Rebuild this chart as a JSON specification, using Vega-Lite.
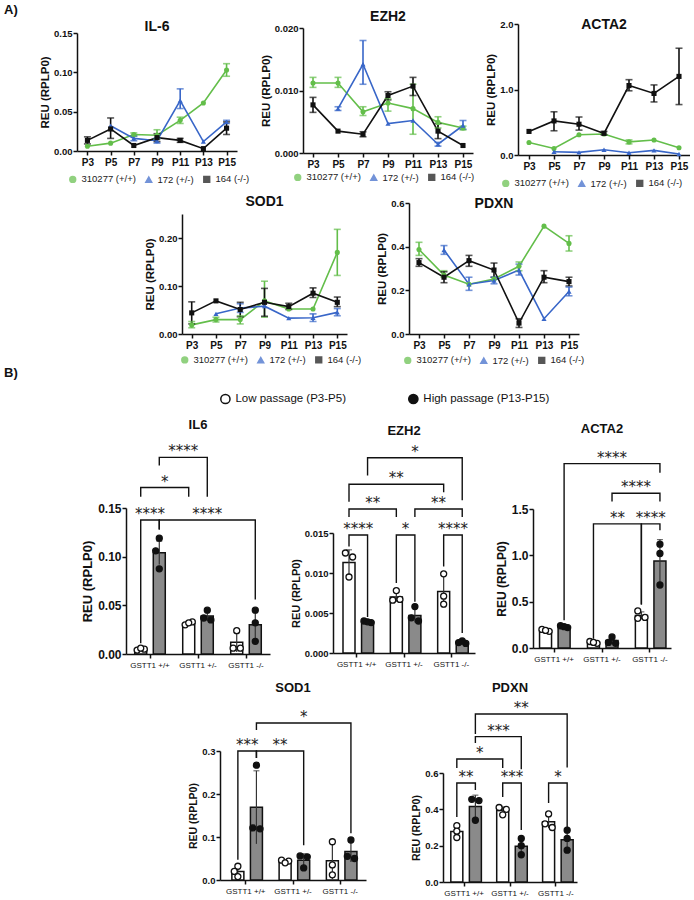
{
  "$schema": "https://vega.github.io/schema/vega-lite/v6.json",
  "padding": {"left": 3, "top": 4, "right": 0, "bottom": 0},
  "spacing": 0,
  "config": {
    "view": {"stroke": null},
    "font": "Liberation Sans",
    "axis": {"grid": false, "domainColor": "#111", "domainWidth": 1.5, "tickColor": "#111", "tickWidth": 1.5, "tickSize": 4, "labelColor": "#111", "titleColor": "#111", "labelFontWeight": "bold", "titleFontWeight": "bold", "labelPadding": 1, "titlePadding": 3, "labelFont": "Liberation Sans", "titleFont": "Liberation Sans", "labelOverlap": false},
    "legend": {"orient": "none", "direction": "horizontal", "title": null, "labelFontSize": 9.5, "labelColor": "#222", "labelFontWeight": "normal", "labelFont": "Liberation Sans", "symbolSize": 34, "symbolStrokeWidth": 1.5, "labelOffset": 4, "columnPadding": 6},
    "title": {"color": "#111", "fontWeight": "bold", "frame": "group", "font": "Liberation Sans"}
  },
  "datasets": {
    "trend": [
      {"gene": "IL-6", "series": "310277 (+/+)", "passage": "P3", "mean": 0.006},
      {"gene": "IL-6", "series": "310277 (+/+)", "passage": "P5", "mean": 0.010},
      {"gene": "IL-6", "series": "310277 (+/+)", "passage": "P7", "mean": 0.021, "lo": 0.019, "hi": 0.023},
      {"gene": "IL-6", "series": "310277 (+/+)", "passage": "P9", "mean": 0.020, "lo": 0.015, "hi": 0.027},
      {"gene": "IL-6", "series": "310277 (+/+)", "passage": "P11", "mean": 0.039, "lo": 0.035, "hi": 0.043},
      {"gene": "IL-6", "series": "310277 (+/+)", "passage": "P13", "mean": 0.061},
      {"gene": "IL-6", "series": "310277 (+/+)", "passage": "P15", "mean": 0.103, "lo": 0.095, "hi": 0.111},
      {"gene": "IL-6", "series": "172 (+/-)", "passage": "P5", "mean": 0.032},
      {"gene": "IL-6", "series": "172 (+/-)", "passage": "P7", "mean": 0.016, "lo": 0.013, "hi": 0.019},
      {"gene": "IL-6", "series": "172 (+/-)", "passage": "P9", "mean": 0.013, "lo": 0.010, "hi": 0.016},
      {"gene": "IL-6", "series": "172 (+/-)", "passage": "P11", "mean": 0.064, "lo": 0.054, "hi": 0.079},
      {"gene": "IL-6", "series": "172 (+/-)", "passage": "P13", "mean": 0.012},
      {"gene": "IL-6", "series": "172 (+/-)", "passage": "P15", "mean": 0.037, "lo": 0.035, "hi": 0.039},
      {"gene": "IL-6", "series": "164 (-/-)", "passage": "P3", "mean": 0.0135, "lo": 0.009, "hi": 0.018},
      {"gene": "IL-6", "series": "164 (-/-)", "passage": "P5", "mean": 0.028, "lo": 0.016, "hi": 0.042},
      {"gene": "IL-6", "series": "164 (-/-)", "passage": "P7", "mean": 0.007},
      {"gene": "IL-6", "series": "164 (-/-)", "passage": "P9", "mean": 0.017, "lo": 0.012, "hi": 0.022},
      {"gene": "IL-6", "series": "164 (-/-)", "passage": "P11", "mean": 0.0135, "lo": 0.011, "hi": 0.016},
      {"gene": "IL-6", "series": "164 (-/-)", "passage": "P13", "mean": 0.003},
      {"gene": "IL-6", "series": "164 (-/-)", "passage": "P15", "mean": 0.029, "lo": 0.021, "hi": 0.037},

      {"gene": "EZH2", "series": "310277 (+/+)", "passage": "P3", "mean": 0.0112, "lo": 0.0105, "hi": 0.0121},
      {"gene": "EZH2", "series": "310277 (+/+)", "passage": "P5", "mean": 0.0112, "lo": 0.0105, "hi": 0.0121},
      {"gene": "EZH2", "series": "310277 (+/+)", "passage": "P7", "mean": 0.0066, "lo": 0.006, "hi": 0.0074},
      {"gene": "EZH2", "series": "310277 (+/+)", "passage": "P9", "mean": 0.008, "lo": 0.0067, "hi": 0.0087},
      {"gene": "EZH2", "series": "310277 (+/+)", "passage": "P11", "mean": 0.0071, "lo": 0.003, "hi": 0.011},
      {"gene": "EZH2", "series": "310277 (+/+)", "passage": "P13", "mean": 0.0049, "lo": 0.004, "hi": 0.0058},
      {"gene": "EZH2", "series": "310277 (+/+)", "passage": "P15", "mean": 0.004, "lo": 0.0037, "hi": 0.0043},
      {"gene": "EZH2", "series": "172 (+/-)", "passage": "P5", "mean": 0.0071, "lo": 0.0068, "hi": 0.0074},
      {"gene": "EZH2", "series": "172 (+/-)", "passage": "P7", "mean": 0.0142, "lo": 0.011, "hi": 0.018},
      {"gene": "EZH2", "series": "172 (+/-)", "passage": "P9", "mean": 0.0047},
      {"gene": "EZH2", "series": "172 (+/-)", "passage": "P11", "mean": 0.0052},
      {"gene": "EZH2", "series": "172 (+/-)", "passage": "P13", "mean": 0.0014, "lo": 0.0011, "hi": 0.0017},
      {"gene": "EZH2", "series": "172 (+/-)", "passage": "P15", "mean": 0.0044, "lo": 0.0038, "hi": 0.0052},
      {"gene": "EZH2", "series": "164 (-/-)", "passage": "P3", "mean": 0.0077, "lo": 0.0065, "hi": 0.0089},
      {"gene": "EZH2", "series": "164 (-/-)", "passage": "P5", "mean": 0.0035},
      {"gene": "EZH2", "series": "164 (-/-)", "passage": "P7", "mean": 0.003, "lo": 0.0026, "hi": 0.0034},
      {"gene": "EZH2", "series": "164 (-/-)", "passage": "P9", "mean": 0.0092, "lo": 0.0085, "hi": 0.0098},
      {"gene": "EZH2", "series": "164 (-/-)", "passage": "P11", "mean": 0.0107, "lo": 0.0092, "hi": 0.0121},
      {"gene": "EZH2", "series": "164 (-/-)", "passage": "P13", "mean": 0.0035, "lo": 0.0023, "hi": 0.0047},
      {"gene": "EZH2", "series": "164 (-/-)", "passage": "P15", "mean": 0.0012},

      {"gene": "ACTA2", "series": "310277 (+/+)", "passage": "P3", "mean": 0.19},
      {"gene": "ACTA2", "series": "310277 (+/+)", "passage": "P5", "mean": 0.10},
      {"gene": "ACTA2", "series": "310277 (+/+)", "passage": "P7", "mean": 0.31},
      {"gene": "ACTA2", "series": "310277 (+/+)", "passage": "P9", "mean": 0.32},
      {"gene": "ACTA2", "series": "310277 (+/+)", "passage": "P11", "mean": 0.20, "lo": 0.17, "hi": 0.23},
      {"gene": "ACTA2", "series": "310277 (+/+)", "passage": "P13", "mean": 0.23},
      {"gene": "ACTA2", "series": "310277 (+/+)", "passage": "P15", "mean": 0.11},
      {"gene": "ACTA2", "series": "172 (+/-)", "passage": "P5", "mean": 0.05},
      {"gene": "ACTA2", "series": "172 (+/-)", "passage": "P7", "mean": 0.04},
      {"gene": "ACTA2", "series": "172 (+/-)", "passage": "P9", "mean": 0.08},
      {"gene": "ACTA2", "series": "172 (+/-)", "passage": "P11", "mean": 0.035},
      {"gene": "ACTA2", "series": "172 (+/-)", "passage": "P13", "mean": 0.07},
      {"gene": "ACTA2", "series": "172 (+/-)", "passage": "P15", "mean": 0.015},
      {"gene": "ACTA2", "series": "164 (-/-)", "passage": "P3", "mean": 0.36},
      {"gene": "ACTA2", "series": "164 (-/-)", "passage": "P5", "mean": 0.52, "lo": 0.37, "hi": 0.66},
      {"gene": "ACTA2", "series": "164 (-/-)", "passage": "P7", "mean": 0.47, "lo": 0.38, "hi": 0.58},
      {"gene": "ACTA2", "series": "164 (-/-)", "passage": "P9", "mean": 0.33, "lo": 0.31, "hi": 0.36},
      {"gene": "ACTA2", "series": "164 (-/-)", "passage": "P11", "mean": 1.06, "lo": 0.98, "hi": 1.15},
      {"gene": "ACTA2", "series": "164 (-/-)", "passage": "P13", "mean": 0.94, "lo": 0.81, "hi": 1.07},
      {"gene": "ACTA2", "series": "164 (-/-)", "passage": "P15", "mean": 1.20, "lo": 0.77, "hi": 1.63},

      {"gene": "SOD1", "series": "310277 (+/+)", "passage": "P3", "mean": 0.019, "lo": 0.013, "hi": 0.026},
      {"gene": "SOD1", "series": "310277 (+/+)", "passage": "P5", "mean": 0.030, "lo": 0.025, "hi": 0.035},
      {"gene": "SOD1", "series": "310277 (+/+)", "passage": "P7", "mean": 0.030, "lo": 0.021, "hi": 0.038},
      {"gene": "SOD1", "series": "310277 (+/+)", "passage": "P9", "mean": 0.069, "lo": 0.035, "hi": 0.110},
      {"gene": "SOD1", "series": "310277 (+/+)", "passage": "P11", "mean": 0.052},
      {"gene": "SOD1", "series": "310277 (+/+)", "passage": "P13", "mean": 0.052},
      {"gene": "SOD1", "series": "310277 (+/+)", "passage": "P15", "mean": 0.170, "lo": 0.122, "hi": 0.218},
      {"gene": "SOD1", "series": "172 (+/-)", "passage": "P5", "mean": 0.042},
      {"gene": "SOD1", "series": "172 (+/-)", "passage": "P7", "mean": 0.054, "lo": 0.045, "hi": 0.063},
      {"gene": "SOD1", "series": "172 (+/-)", "passage": "P9", "mean": 0.058},
      {"gene": "SOD1", "series": "172 (+/-)", "passage": "P11", "mean": 0.033},
      {"gene": "SOD1", "series": "172 (+/-)", "passage": "P13", "mean": 0.034, "lo": 0.026, "hi": 0.042},
      {"gene": "SOD1", "series": "172 (+/-)", "passage": "P15", "mean": 0.045, "lo": 0.038, "hi": 0.053},
      {"gene": "SOD1", "series": "164 (-/-)", "passage": "P3", "mean": 0.044, "lo": 0.021, "hi": 0.067},
      {"gene": "SOD1", "series": "164 (-/-)", "passage": "P5", "mean": 0.069},
      {"gene": "SOD1", "series": "164 (-/-)", "passage": "P7", "mean": 0.051, "lo": 0.036, "hi": 0.066},
      {"gene": "SOD1", "series": "164 (-/-)", "passage": "P9", "mean": 0.066, "lo": 0.037, "hi": 0.095},
      {"gene": "SOD1", "series": "164 (-/-)", "passage": "P11", "mean": 0.057, "lo": 0.051, "hi": 0.064},
      {"gene": "SOD1", "series": "164 (-/-)", "passage": "P13", "mean": 0.085, "lo": 0.076, "hi": 0.096},
      {"gene": "SOD1", "series": "164 (-/-)", "passage": "P15", "mean": 0.066, "lo": 0.057, "hi": 0.077},

      {"gene": "PDXN", "series": "310277 (+/+)", "passage": "P3", "mean": 0.387, "lo": 0.36, "hi": 0.42},
      {"gene": "PDXN", "series": "310277 (+/+)", "passage": "P5", "mean": 0.27, "lo": 0.26, "hi": 0.29},
      {"gene": "PDXN", "series": "310277 (+/+)", "passage": "P7", "mean": 0.228},
      {"gene": "PDXN", "series": "310277 (+/+)", "passage": "P9", "mean": 0.252},
      {"gene": "PDXN", "series": "310277 (+/+)", "passage": "P11", "mean": 0.31, "lo": 0.29, "hi": 0.33},
      {"gene": "PDXN", "series": "310277 (+/+)", "passage": "P13", "mean": 0.494},
      {"gene": "PDXN", "series": "310277 (+/+)", "passage": "P15", "mean": 0.415, "lo": 0.38, "hi": 0.45},
      {"gene": "PDXN", "series": "172 (+/-)", "passage": "P5", "mean": 0.385, "lo": 0.365, "hi": 0.405},
      {"gene": "PDXN", "series": "172 (+/-)", "passage": "P7", "mean": 0.228, "lo": 0.20, "hi": 0.26},
      {"gene": "PDXN", "series": "172 (+/-)", "passage": "P9", "mean": 0.245, "lo": 0.23, "hi": 0.26},
      {"gene": "PDXN", "series": "172 (+/-)", "passage": "P11", "mean": 0.293, "lo": 0.27, "hi": 0.32},
      {"gene": "PDXN", "series": "172 (+/-)", "passage": "P13", "mean": 0.07},
      {"gene": "PDXN", "series": "172 (+/-)", "passage": "P15", "mean": 0.195, "lo": 0.175, "hi": 0.215},
      {"gene": "PDXN", "series": "164 (-/-)", "passage": "P3", "mean": 0.327, "lo": 0.31, "hi": 0.345},
      {"gene": "PDXN", "series": "164 (-/-)", "passage": "P5", "mean": 0.26, "lo": 0.235, "hi": 0.285},
      {"gene": "PDXN", "series": "164 (-/-)", "passage": "P7", "mean": 0.336, "lo": 0.31, "hi": 0.36},
      {"gene": "PDXN", "series": "164 (-/-)", "passage": "P9", "mean": 0.293, "lo": 0.26, "hi": 0.325},
      {"gene": "PDXN", "series": "164 (-/-)", "passage": "P11", "mean": 0.05, "lo": 0.03, "hi": 0.07},
      {"gene": "PDXN", "series": "164 (-/-)", "passage": "P13", "mean": 0.26, "lo": 0.235, "hi": 0.29},
      {"gene": "PDXN", "series": "164 (-/-)", "passage": "P15", "mean": 0.24, "lo": 0.22, "hi": 0.26}
    ],
    "bars": [
      {"gene": "IL6", "genotype": "GSTT1 +/+", "passage": "Low", "mean": 0.005, "lo": 0.004, "hi": 0.006},
      {"gene": "IL6", "genotype": "GSTT1 +/+", "passage": "High", "mean": 0.104, "lo": 0.092, "hi": 0.116},
      {"gene": "IL6", "genotype": "GSTT1 +/-", "passage": "Low", "mean": 0.031, "lo": 0.030, "hi": 0.033},
      {"gene": "IL6", "genotype": "GSTT1 +/-", "passage": "High", "mean": 0.039, "lo": 0.034, "hi": 0.044},
      {"gene": "IL6", "genotype": "GSTT1 -/-", "passage": "Low", "mean": 0.012, "lo": 0.002, "hi": 0.022},
      {"gene": "IL6", "genotype": "GSTT1 -/-", "passage": "High", "mean": 0.030, "lo": 0.014, "hi": 0.046},
      {"gene": "EZH2", "genotype": "GSTT1 +/+", "passage": "Low", "mean": 0.0113, "lo": 0.0097, "hi": 0.0129},
      {"gene": "EZH2", "genotype": "GSTT1 +/+", "passage": "High", "mean": 0.0039, "lo": 0.0037, "hi": 0.0041},
      {"gene": "EZH2", "genotype": "GSTT1 +/-", "passage": "Low", "mean": 0.0070, "lo": 0.0064, "hi": 0.0076},
      {"gene": "EZH2", "genotype": "GSTT1 +/-", "passage": "High", "mean": 0.0047, "lo": 0.0038, "hi": 0.0057},
      {"gene": "EZH2", "genotype": "GSTT1 -/-", "passage": "Low", "mean": 0.0077, "lo": 0.0057, "hi": 0.0097},
      {"gene": "EZH2", "genotype": "GSTT1 -/-", "passage": "High", "mean": 0.0013, "lo": 0.0011, "hi": 0.0015},
      {"gene": "ACTA2", "genotype": "GSTT1 +/+", "passage": "Low", "mean": 0.19, "lo": 0.175, "hi": 0.205},
      {"gene": "ACTA2", "genotype": "GSTT1 +/+", "passage": "High", "mean": 0.23, "lo": 0.22, "hi": 0.24},
      {"gene": "ACTA2", "genotype": "GSTT1 +/-", "passage": "Low", "mean": 0.06, "lo": 0.05, "hi": 0.07},
      {"gene": "ACTA2", "genotype": "GSTT1 +/-", "passage": "High", "mean": 0.08, "lo": 0.04, "hi": 0.12},
      {"gene": "ACTA2", "genotype": "GSTT1 -/-", "passage": "Low", "mean": 0.35, "lo": 0.31, "hi": 0.39},
      {"gene": "ACTA2", "genotype": "GSTT1 -/-", "passage": "High", "mean": 0.94, "lo": 0.71, "hi": 1.17},
      {"gene": "SOD1", "genotype": "GSTT1 +/+", "passage": "Low", "mean": 0.020, "lo": 0.008, "hi": 0.032},
      {"gene": "SOD1", "genotype": "GSTT1 +/+", "passage": "High", "mean": 0.169, "lo": 0.084, "hi": 0.254},
      {"gene": "SOD1", "genotype": "GSTT1 +/-", "passage": "Low", "mean": 0.043, "lo": 0.040, "hi": 0.046},
      {"gene": "SOD1", "genotype": "GSTT1 +/-", "passage": "High", "mean": 0.046, "lo": 0.031, "hi": 0.061},
      {"gene": "SOD1", "genotype": "GSTT1 -/-", "passage": "Low", "mean": 0.045, "lo": 0.002, "hi": 0.088},
      {"gene": "SOD1", "genotype": "GSTT1 -/-", "passage": "High", "mean": 0.066, "lo": 0.042, "hi": 0.090},
      {"gene": "PDXN", "genotype": "GSTT1 +/+", "passage": "Low", "mean": 0.278, "lo": 0.246, "hi": 0.310},
      {"gene": "PDXN", "genotype": "GSTT1 +/+", "passage": "High", "mean": 0.415, "lo": 0.351, "hi": 0.478},
      {"gene": "PDXN", "genotype": "GSTT1 +/-", "passage": "Low", "mean": 0.393, "lo": 0.373, "hi": 0.413},
      {"gene": "PDXN", "genotype": "GSTT1 +/-", "passage": "High", "mean": 0.197, "lo": 0.152, "hi": 0.242},
      {"gene": "PDXN", "genotype": "GSTT1 -/-", "passage": "Low", "mean": 0.332, "lo": 0.297, "hi": 0.367},
      {"gene": "PDXN", "genotype": "GSTT1 -/-", "passage": "High", "mean": 0.233, "lo": 0.178, "hi": 0.288}
    ],
    "dots": [
      {"gene": "IL6", "genotype": "GSTT1 +/+", "passage": "Low", "rep": "a", "value": 0.004},
      {"gene": "IL6", "genotype": "GSTT1 +/+", "passage": "Low", "rep": "b", "value": 0.005},
      {"gene": "IL6", "genotype": "GSTT1 +/+", "passage": "Low", "rep": "c", "value": 0.006},
      {"gene": "IL6", "genotype": "GSTT1 +/+", "passage": "High", "rep": "a", "value": 0.106},
      {"gene": "IL6", "genotype": "GSTT1 +/+", "passage": "High", "rep": "c", "value": 0.119},
      {"gene": "IL6", "genotype": "GSTT1 +/+", "passage": "High", "rep": "c", "value": 0.0875},
      {"gene": "IL6", "genotype": "GSTT1 +/-", "passage": "Low", "rep": "a", "value": 0.030},
      {"gene": "IL6", "genotype": "GSTT1 +/-", "passage": "Low", "rep": "b", "value": 0.033},
      {"gene": "IL6", "genotype": "GSTT1 +/-", "passage": "Low", "rep": "c", "value": 0.032},
      {"gene": "IL6", "genotype": "GSTT1 +/-", "passage": "High", "rep": "c", "value": 0.045},
      {"gene": "IL6", "genotype": "GSTT1 +/-", "passage": "High", "rep": "a", "value": 0.037},
      {"gene": "IL6", "genotype": "GSTT1 +/-", "passage": "High", "rep": "b", "value": 0.035},
      {"gene": "IL6", "genotype": "GSTT1 -/-", "passage": "Low", "rep": "c", "value": 0.024},
      {"gene": "IL6", "genotype": "GSTT1 -/-", "passage": "Low", "rep": "a", "value": 0.006},
      {"gene": "IL6", "genotype": "GSTT1 -/-", "passage": "Low", "rep": "b", "value": 0.006},
      {"gene": "IL6", "genotype": "GSTT1 -/-", "passage": "High", "rep": "c", "value": 0.045},
      {"gene": "IL6", "genotype": "GSTT1 -/-", "passage": "High", "rep": "c", "value": 0.032},
      {"gene": "IL6", "genotype": "GSTT1 -/-", "passage": "High", "rep": "c", "value": 0.013},
      {"gene": "EZH2", "genotype": "GSTT1 +/+", "passage": "Low", "rep": "a", "value": 0.0125},
      {"gene": "EZH2", "genotype": "GSTT1 +/+", "passage": "Low", "rep": "b", "value": 0.012},
      {"gene": "EZH2", "genotype": "GSTT1 +/+", "passage": "Low", "rep": "c", "value": 0.0095},
      {"gene": "EZH2", "genotype": "GSTT1 +/+", "passage": "High", "rep": "a", "value": 0.004},
      {"gene": "EZH2", "genotype": "GSTT1 +/+", "passage": "High", "rep": "b", "value": 0.0038},
      {"gene": "EZH2", "genotype": "GSTT1 +/+", "passage": "High", "rep": "c", "value": 0.0039},
      {"gene": "EZH2", "genotype": "GSTT1 +/-", "passage": "Low", "rep": "c", "value": 0.0078},
      {"gene": "EZH2", "genotype": "GSTT1 +/-", "passage": "Low", "rep": "a", "value": 0.0066},
      {"gene": "EZH2", "genotype": "GSTT1 +/-", "passage": "Low", "rep": "b", "value": 0.0067},
      {"gene": "EZH2", "genotype": "GSTT1 +/-", "passage": "High", "rep": "c", "value": 0.0058},
      {"gene": "EZH2", "genotype": "GSTT1 +/-", "passage": "High", "rep": "a", "value": 0.0044},
      {"gene": "EZH2", "genotype": "GSTT1 +/-", "passage": "High", "rep": "b", "value": 0.004},
      {"gene": "EZH2", "genotype": "GSTT1 -/-", "passage": "Low", "rep": "c", "value": 0.0099},
      {"gene": "EZH2", "genotype": "GSTT1 -/-", "passage": "Low", "rep": "c", "value": 0.0071},
      {"gene": "EZH2", "genotype": "GSTT1 -/-", "passage": "Low", "rep": "c", "value": 0.0061},
      {"gene": "EZH2", "genotype": "GSTT1 -/-", "passage": "High", "rep": "a", "value": 0.0013},
      {"gene": "EZH2", "genotype": "GSTT1 -/-", "passage": "High", "rep": "b", "value": 0.0012},
      {"gene": "EZH2", "genotype": "GSTT1 -/-", "passage": "High", "rep": "c", "value": 0.0015},
      {"gene": "ACTA2", "genotype": "GSTT1 +/+", "passage": "Low", "rep": "a", "value": 0.20},
      {"gene": "ACTA2", "genotype": "GSTT1 +/+", "passage": "Low", "rep": "b", "value": 0.18},
      {"gene": "ACTA2", "genotype": "GSTT1 +/+", "passage": "Low", "rep": "c", "value": 0.19},
      {"gene": "ACTA2", "genotype": "GSTT1 +/+", "passage": "High", "rep": "a", "value": 0.24},
      {"gene": "ACTA2", "genotype": "GSTT1 +/+", "passage": "High", "rep": "b", "value": 0.22},
      {"gene": "ACTA2", "genotype": "GSTT1 +/+", "passage": "High", "rep": "c", "value": 0.23},
      {"gene": "ACTA2", "genotype": "GSTT1 +/-", "passage": "Low", "rep": "a", "value": 0.07},
      {"gene": "ACTA2", "genotype": "GSTT1 +/-", "passage": "Low", "rep": "b", "value": 0.05},
      {"gene": "ACTA2", "genotype": "GSTT1 +/-", "passage": "Low", "rep": "c", "value": 0.06},
      {"gene": "ACTA2", "genotype": "GSTT1 +/-", "passage": "High", "rep": "c", "value": 0.12},
      {"gene": "ACTA2", "genotype": "GSTT1 +/-", "passage": "High", "rep": "a", "value": 0.06},
      {"gene": "ACTA2", "genotype": "GSTT1 +/-", "passage": "High", "rep": "b", "value": 0.05},
      {"gene": "ACTA2", "genotype": "GSTT1 -/-", "passage": "Low", "rep": "a", "value": 0.40},
      {"gene": "ACTA2", "genotype": "GSTT1 -/-", "passage": "Low", "rep": "b", "value": 0.33},
      {"gene": "ACTA2", "genotype": "GSTT1 -/-", "passage": "Low", "rep": "a", "value": 0.32},
      {"gene": "ACTA2", "genotype": "GSTT1 -/-", "passage": "High", "rep": "c", "value": 1.12},
      {"gene": "ACTA2", "genotype": "GSTT1 -/-", "passage": "High", "rep": "c", "value": 1.02},
      {"gene": "ACTA2", "genotype": "GSTT1 -/-", "passage": "High", "rep": "c", "value": 0.68},
      {"gene": "SOD1", "genotype": "GSTT1 +/+", "passage": "Low", "rep": "c", "value": 0.032},
      {"gene": "SOD1", "genotype": "GSTT1 +/+", "passage": "Low", "rep": "a", "value": 0.020},
      {"gene": "SOD1", "genotype": "GSTT1 +/+", "passage": "Low", "rep": "c", "value": 0.008},
      {"gene": "SOD1", "genotype": "GSTT1 +/+", "passage": "High", "rep": "c", "value": 0.267},
      {"gene": "SOD1", "genotype": "GSTT1 +/+", "passage": "High", "rep": "a", "value": 0.121},
      {"gene": "SOD1", "genotype": "GSTT1 +/+", "passage": "High", "rep": "b", "value": 0.119},
      {"gene": "SOD1", "genotype": "GSTT1 +/-", "passage": "Low", "rep": "a", "value": 0.046},
      {"gene": "SOD1", "genotype": "GSTT1 +/-", "passage": "Low", "rep": "b", "value": 0.044},
      {"gene": "SOD1", "genotype": "GSTT1 +/-", "passage": "Low", "rep": "c", "value": 0.040},
      {"gene": "SOD1", "genotype": "GSTT1 +/-", "passage": "High", "rep": "a", "value": 0.056},
      {"gene": "SOD1", "genotype": "GSTT1 +/-", "passage": "High", "rep": "b", "value": 0.054},
      {"gene": "SOD1", "genotype": "GSTT1 +/-", "passage": "High", "rep": "c", "value": 0.028},
      {"gene": "SOD1", "genotype": "GSTT1 -/-", "passage": "Low", "rep": "c", "value": 0.089},
      {"gene": "SOD1", "genotype": "GSTT1 -/-", "passage": "Low", "rep": "c", "value": 0.035},
      {"gene": "SOD1", "genotype": "GSTT1 -/-", "passage": "Low", "rep": "c", "value": 0.012},
      {"gene": "SOD1", "genotype": "GSTT1 -/-", "passage": "High", "rep": "c", "value": 0.093},
      {"gene": "SOD1", "genotype": "GSTT1 -/-", "passage": "High", "rep": "a", "value": 0.055},
      {"gene": "SOD1", "genotype": "GSTT1 -/-", "passage": "High", "rep": "b", "value": 0.050},
      {"gene": "PDXN", "genotype": "GSTT1 +/+", "passage": "Low", "rep": "c", "value": 0.31},
      {"gene": "PDXN", "genotype": "GSTT1 +/+", "passage": "Low", "rep": "c", "value": 0.28},
      {"gene": "PDXN", "genotype": "GSTT1 +/+", "passage": "Low", "rep": "c", "value": 0.245},
      {"gene": "PDXN", "genotype": "GSTT1 +/+", "passage": "High", "rep": "a", "value": 0.455},
      {"gene": "PDXN", "genotype": "GSTT1 +/+", "passage": "High", "rep": "b", "value": 0.448},
      {"gene": "PDXN", "genotype": "GSTT1 +/+", "passage": "High", "rep": "c", "value": 0.34},
      {"gene": "PDXN", "genotype": "GSTT1 +/-", "passage": "Low", "rep": "a", "value": 0.41},
      {"gene": "PDXN", "genotype": "GSTT1 +/-", "passage": "Low", "rep": "b", "value": 0.40},
      {"gene": "PDXN", "genotype": "GSTT1 +/-", "passage": "Low", "rep": "c", "value": 0.37},
      {"gene": "PDXN", "genotype": "GSTT1 +/-", "passage": "High", "rep": "c", "value": 0.24},
      {"gene": "PDXN", "genotype": "GSTT1 +/-", "passage": "High", "rep": "c", "value": 0.20},
      {"gene": "PDXN", "genotype": "GSTT1 +/-", "passage": "High", "rep": "c", "value": 0.15},
      {"gene": "PDXN", "genotype": "GSTT1 -/-", "passage": "Low", "rep": "c", "value": 0.375},
      {"gene": "PDXN", "genotype": "GSTT1 -/-", "passage": "Low", "rep": "a", "value": 0.32},
      {"gene": "PDXN", "genotype": "GSTT1 -/-", "passage": "Low", "rep": "b", "value": 0.30},
      {"gene": "PDXN", "genotype": "GSTT1 -/-", "passage": "High", "rep": "c", "value": 0.285},
      {"gene": "PDXN", "genotype": "GSTT1 -/-", "passage": "High", "rep": "c", "value": 0.24},
      {"gene": "PDXN", "genotype": "GSTT1 -/-", "passage": "High", "rep": "c", "value": 0.175}
    ],
    "brackets": [
      {"gene": "IL6", "b": 1, "v": 1, "genotype": "GSTT1 +/+", "passage": "Low", "y": 0.011},
      {"gene": "IL6", "b": 1, "v": 2, "genotype": "GSTT1 +/+", "passage": "Low", "y": 0.1377},
      {"gene": "IL6", "b": 1, "v": 3, "genotype": "GSTT1 +/+", "passage": "High", "y": 0.1377},
      {"gene": "IL6", "b": 1, "v": 4, "genotype": "GSTT1 +/+", "passage": "High", "y": 0.128},
      {"gene": "IL6", "b": 2, "v": 1, "genotype": "GSTT1 +/+", "passage": "High", "y": 0.128},
      {"gene": "IL6", "b": 2, "v": 2, "genotype": "GSTT1 +/+", "passage": "High", "y": 0.1377},
      {"gene": "IL6", "b": 2, "v": 3, "genotype": "GSTT1 -/-", "passage": "High", "y": 0.1377},
      {"gene": "IL6", "b": 2, "v": 4, "genotype": "GSTT1 -/-", "passage": "High", "y": 0.056},
      {"gene": "IL6", "b": 3, "v": 1, "genotype": "GSTT1 +/+", "passage": "Low", "y": 0.1615},
      {"gene": "IL6", "b": 3, "v": 2, "genotype": "GSTT1 +/+", "passage": "Low", "y": 0.171},
      {"gene": "IL6", "b": 3, "v": 3, "genotype": "GSTT1 +/-", "passage": "Low", "y": 0.171},
      {"gene": "IL6", "b": 3, "v": 4, "genotype": "GSTT1 +/-", "passage": "Low", "y": 0.1615},
      {"gene": "IL6", "b": 4, "v": 1, "genotype": "GSTT1 +/+", "passage": "High", "y": 0.1936},
      {"gene": "IL6", "b": 4, "v": 2, "genotype": "GSTT1 +/+", "passage": "High", "y": 0.202},
      {"gene": "IL6", "b": 4, "v": 3, "genotype": "GSTT1 +/-", "passage": "High", "y": 0.202},
      {"gene": "IL6", "b": 4, "v": 4, "genotype": "GSTT1 +/-", "passage": "High", "y": 0.1615},

      {"gene": "EZH2", "b": 1, "v": 1, "genotype": "GSTT1 +/+", "passage": "Low", "y": 0.0133},
      {"gene": "EZH2", "b": 1, "v": 2, "genotype": "GSTT1 +/+", "passage": "Low", "y": 0.01475},
      {"gene": "EZH2", "b": 1, "v": 3, "genotype": "GSTT1 +/+", "passage": "High", "y": 0.01475},
      {"gene": "EZH2", "b": 1, "v": 4, "genotype": "GSTT1 +/+", "passage": "High", "y": 0.0045},
      {"gene": "EZH2", "b": 2, "v": 1, "genotype": "GSTT1 +/-", "passage": "Low", "y": 0.00875},
      {"gene": "EZH2", "b": 2, "v": 2, "genotype": "GSTT1 +/-", "passage": "Low", "y": 0.01475},
      {"gene": "EZH2", "b": 2, "v": 3, "genotype": "GSTT1 +/-", "passage": "High", "y": 0.01475},
      {"gene": "EZH2", "b": 2, "v": 4, "genotype": "GSTT1 +/-", "passage": "High", "y": 0.0064},
      {"gene": "EZH2", "b": 3, "v": 1, "genotype": "GSTT1 -/-", "passage": "Low", "y": 0.0108},
      {"gene": "EZH2", "b": 3, "v": 2, "genotype": "GSTT1 -/-", "passage": "Low", "y": 0.01475},
      {"gene": "EZH2", "b": 3, "v": 3, "genotype": "GSTT1 -/-", "passage": "High", "y": 0.01475},
      {"gene": "EZH2", "b": 3, "v": 4, "genotype": "GSTT1 -/-", "passage": "High", "y": 0.0025},
      {"gene": "EZH2", "b": 4, "v": 1, "genotype": "GSTT1 +/+", "passage": "Low", "y": 0.017},
      {"gene": "EZH2", "b": 4, "v": 2, "genotype": "GSTT1 +/+", "passage": "Low", "y": 0.018},
      {"gene": "EZH2", "b": 4, "v": 3, "genotype": "GSTT1 +/-", "passage": "Low", "y": 0.018},
      {"gene": "EZH2", "b": 4, "v": 4, "genotype": "GSTT1 +/-", "passage": "Low", "y": 0.017},
      {"gene": "EZH2", "b": 5, "v": 1, "genotype": "GSTT1 +/-", "passage": "High", "y": 0.017},
      {"gene": "EZH2", "b": 5, "v": 2, "genotype": "GSTT1 +/-", "passage": "High", "y": 0.018},
      {"gene": "EZH2", "b": 5, "v": 3, "genotype": "GSTT1 -/-", "passage": "High", "y": 0.018},
      {"gene": "EZH2", "b": 5, "v": 4, "genotype": "GSTT1 -/-", "passage": "High", "y": 0.017},
      {"gene": "EZH2", "b": 6, "v": 1, "genotype": "GSTT1 +/+", "passage": "Low", "y": 0.0189},
      {"gene": "EZH2", "b": 6, "v": 2, "genotype": "GSTT1 +/+", "passage": "Low", "y": 0.0211},
      {"gene": "EZH2", "b": 6, "v": 3, "genotype": "GSTT1 -/-", "passage": "Low", "y": 0.0211},
      {"gene": "EZH2", "b": 6, "v": 4, "genotype": "GSTT1 -/-", "passage": "Low", "y": 0.0201},
      {"gene": "EZH2", "b": 7, "v": 1, "genotype": "GSTT1 +/+", "passage": "High", "y": 0.0222},
      {"gene": "EZH2", "b": 7, "v": 2, "genotype": "GSTT1 +/+", "passage": "High", "y": 0.0244},
      {"gene": "EZH2", "b": 7, "v": 3, "genotype": "GSTT1 -/-", "passage": "High", "y": 0.0244},
      {"gene": "EZH2", "b": 7, "v": 4, "genotype": "GSTT1 -/-", "passage": "High", "y": 0.0191},

      {"gene": "ACTA2", "b": 1, "v": 1, "genotype": "GSTT1 +/+", "passage": "High", "y": 0.30},
      {"gene": "ACTA2", "b": 1, "v": 2, "genotype": "GSTT1 +/+", "passage": "High", "y": 1.99},
      {"gene": "ACTA2", "b": 1, "v": 3, "genotype": "GSTT1 -/-", "passage": "High", "y": 1.99},
      {"gene": "ACTA2", "b": 1, "v": 4, "genotype": "GSTT1 -/-", "passage": "High", "y": 1.89},
      {"gene": "ACTA2", "b": 2, "v": 1, "genotype": "GSTT1 +/-", "passage": "High", "y": 1.58},
      {"gene": "ACTA2", "b": 2, "v": 2, "genotype": "GSTT1 +/-", "passage": "High", "y": 1.67},
      {"gene": "ACTA2", "b": 2, "v": 3, "genotype": "GSTT1 -/-", "passage": "High", "y": 1.67},
      {"gene": "ACTA2", "b": 2, "v": 4, "genotype": "GSTT1 -/-", "passage": "High", "y": 1.58},
      {"gene": "ACTA2", "b": 3, "v": 1, "genotype": "GSTT1 +/-", "passage": "Low", "y": 0.10},
      {"gene": "ACTA2", "b": 3, "v": 2, "genotype": "GSTT1 +/-", "passage": "Low", "y": 1.34},
      {"gene": "ACTA2", "b": 3, "v": 3, "genotype": "GSTT1 -/-", "passage": "Low", "y": 1.34},
      {"gene": "ACTA2", "b": 3, "v": 4, "genotype": "GSTT1 -/-", "passage": "Low", "y": 0.47},
      {"gene": "ACTA2", "b": 4, "v": 1, "genotype": "GSTT1 -/-", "passage": "Low", "y": 0.47},
      {"gene": "ACTA2", "b": 4, "v": 2, "genotype": "GSTT1 -/-", "passage": "Low", "y": 1.34},
      {"gene": "ACTA2", "b": 4, "v": 3, "genotype": "GSTT1 -/-", "passage": "High", "y": 1.34},
      {"gene": "ACTA2", "b": 4, "v": 4, "genotype": "GSTT1 -/-", "passage": "High", "y": 1.27},

      {"gene": "SOD1", "b": 1, "v": 1, "genotype": "GSTT1 +/+", "passage": "Low", "y": 0.047},
      {"gene": "SOD1", "b": 1, "v": 2, "genotype": "GSTT1 +/+", "passage": "Low", "y": 0.30},
      {"gene": "SOD1", "b": 1, "v": 3, "genotype": "GSTT1 +/+", "passage": "High", "y": 0.30},
      {"gene": "SOD1", "b": 1, "v": 4, "genotype": "GSTT1 +/+", "passage": "High", "y": 0.284},
      {"gene": "SOD1", "b": 2, "v": 1, "genotype": "GSTT1 +/+", "passage": "High", "y": 0.284},
      {"gene": "SOD1", "b": 2, "v": 2, "genotype": "GSTT1 +/+", "passage": "High", "y": 0.30},
      {"gene": "SOD1", "b": 2, "v": 3, "genotype": "GSTT1 +/-", "passage": "High", "y": 0.30},
      {"gene": "SOD1", "b": 2, "v": 4, "genotype": "GSTT1 +/-", "passage": "High", "y": 0.081},
      {"gene": "SOD1", "b": 3, "v": 1, "genotype": "GSTT1 +/+", "passage": "High", "y": 0.349},
      {"gene": "SOD1", "b": 3, "v": 2, "genotype": "GSTT1 +/+", "passage": "High", "y": 0.365},
      {"gene": "SOD1", "b": 3, "v": 3, "genotype": "GSTT1 -/-", "passage": "High", "y": 0.365},
      {"gene": "SOD1", "b": 3, "v": 4, "genotype": "GSTT1 -/-", "passage": "High", "y": 0.109},

      {"gene": "PDXN", "b": 1, "v": 1, "genotype": "GSTT1 +/+", "passage": "Low", "y": 0.358},
      {"gene": "PDXN", "b": 1, "v": 2, "genotype": "GSTT1 +/+", "passage": "Low", "y": 0.545},
      {"gene": "PDXN", "b": 1, "v": 3, "genotype": "GSTT1 +/+", "passage": "High", "y": 0.545},
      {"gene": "PDXN", "b": 1, "v": 4, "genotype": "GSTT1 +/+", "passage": "High", "y": 0.506},
      {"gene": "PDXN", "b": 2, "v": 1, "genotype": "GSTT1 +/-", "passage": "Low", "y": 0.468},
      {"gene": "PDXN", "b": 2, "v": 2, "genotype": "GSTT1 +/-", "passage": "Low", "y": 0.545},
      {"gene": "PDXN", "b": 2, "v": 3, "genotype": "GSTT1 +/-", "passage": "High", "y": 0.545},
      {"gene": "PDXN", "b": 2, "v": 4, "genotype": "GSTT1 +/-", "passage": "High", "y": 0.286},
      {"gene": "PDXN", "b": 3, "v": 1, "genotype": "GSTT1 -/-", "passage": "Low", "y": 0.435},
      {"gene": "PDXN", "b": 3, "v": 2, "genotype": "GSTT1 -/-", "passage": "Low", "y": 0.545},
      {"gene": "PDXN", "b": 3, "v": 3, "genotype": "GSTT1 -/-", "passage": "High", "y": 0.545},
      {"gene": "PDXN", "b": 3, "v": 4, "genotype": "GSTT1 -/-", "passage": "High", "y": 0.297},
      {"gene": "PDXN", "b": 4, "v": 1, "genotype": "GSTT1 +/+", "passage": "Low", "y": 0.627},
      {"gene": "PDXN", "b": 4, "v": 2, "genotype": "GSTT1 +/+", "passage": "Low", "y": 0.677},
      {"gene": "PDXN", "b": 4, "v": 3, "genotype": "GSTT1 +/-", "passage": "Low", "y": 0.677},
      {"gene": "PDXN", "b": 4, "v": 4, "genotype": "GSTT1 +/-", "passage": "Low", "y": 0.627},
      {"gene": "PDXN", "b": 5, "v": 1, "genotype": "GSTT1 +/+", "passage": "High", "y": 0.765},
      {"gene": "PDXN", "b": 5, "v": 2, "genotype": "GSTT1 +/+", "passage": "High", "y": 0.80},
      {"gene": "PDXN", "b": 5, "v": 3, "genotype": "GSTT1 +/-", "passage": "High", "y": 0.80},
      {"gene": "PDXN", "b": 5, "v": 4, "genotype": "GSTT1 +/-", "passage": "High", "y": 0.62},
      {"gene": "PDXN", "b": 6, "v": 1, "genotype": "GSTT1 +/+", "passage": "High", "y": 0.815},
      {"gene": "PDXN", "b": 6, "v": 2, "genotype": "GSTT1 +/+", "passage": "High", "y": 0.925},
      {"gene": "PDXN", "b": 6, "v": 3, "genotype": "GSTT1 -/-", "passage": "High", "y": 0.925},
      {"gene": "PDXN", "b": 6, "v": 4, "genotype": "GSTT1 -/-", "passage": "High", "y": 0.63}
    ],
    "stars": [
      {"gene": "IL6", "label": "****", "genotype": "GSTT1 +/+", "passage": "Mid", "y": 0.1377, "adj": false},
      {"gene": "IL6", "label": "****", "genotype": "GSTT1 +/-", "passage": "High", "y": 0.1377, "adj": false},
      {"gene": "IL6", "label": "*", "genotype": "GSTT1 +/+", "passage": "Low", "y": 0.171, "adj": true},
      {"gene": "IL6", "label": "****", "genotype": "GSTT1 +/+", "passage": "High", "y": 0.202, "adj": true},
      {"gene": "EZH2", "label": "****", "genotype": "GSTT1 +/+", "passage": "Mid", "y": 0.01475, "adj": false},
      {"gene": "EZH2", "label": "*", "genotype": "GSTT1 +/-", "passage": "Mid", "y": 0.01475, "adj": false},
      {"gene": "EZH2", "label": "****", "genotype": "GSTT1 -/-", "passage": "Mid", "y": 0.01475, "adj": false},
      {"gene": "EZH2", "label": "**", "genotype": "GSTT1 +/+", "passage": "Low", "y": 0.018, "adj": true},
      {"gene": "EZH2", "label": "**", "genotype": "GSTT1 +/-", "passage": "High", "y": 0.018, "adj": true},
      {"gene": "EZH2", "label": "**", "genotype": "GSTT1 +/-", "passage": "Low", "y": 0.0211, "adj": false},
      {"gene": "EZH2", "label": "*", "genotype": "GSTT1 +/-", "passage": "High", "y": 0.0244, "adj": false},
      {"gene": "ACTA2", "label": "****", "genotype": "GSTT1 +/-", "passage": "High", "y": 1.99, "adj": false},
      {"gene": "ACTA2", "label": "****", "genotype": "GSTT1 +/-", "passage": "High", "y": 1.67, "adj": true},
      {"gene": "ACTA2", "label": "**", "genotype": "GSTT1 +/-", "passage": "Low", "y": 1.34, "adj": true},
      {"gene": "ACTA2", "label": "****", "genotype": "GSTT1 -/-", "passage": "Mid", "y": 1.34, "adj": false},
      {"gene": "SOD1", "label": "***", "genotype": "GSTT1 +/+", "passage": "Mid", "y": 0.30, "adj": false},
      {"gene": "SOD1", "label": "**", "genotype": "GSTT1 +/+", "passage": "High", "y": 0.30, "adj": true},
      {"gene": "SOD1", "label": "*", "genotype": "GSTT1 +/-", "passage": "High", "y": 0.365, "adj": false},
      {"gene": "PDXN", "label": "**", "genotype": "GSTT1 +/+", "passage": "Mid", "y": 0.545, "adj": false},
      {"gene": "PDXN", "label": "***", "genotype": "GSTT1 +/-", "passage": "Mid", "y": 0.545, "adj": false},
      {"gene": "PDXN", "label": "*", "genotype": "GSTT1 -/-", "passage": "Mid", "y": 0.545, "adj": false},
      {"gene": "PDXN", "label": "*", "genotype": "GSTT1 +/+", "passage": "Low", "y": 0.677, "adj": true},
      {"gene": "PDXN", "label": "***", "genotype": "GSTT1 +/+", "passage": "High", "y": 0.80, "adj": true},
      {"gene": "PDXN", "label": "**", "genotype": "GSTT1 +/-", "passage": "High", "y": 0.925, "adj": false}
    ]
  },
  "resolve": {"scale": {"color": "independent", "shape": "independent", "fill": "independent"}, "legend": {"color": "independent", "shape": "independent", "fill": "independent"}},
  "vconcat": [
    {
      "spacing": 8,
      "resolve": {"scale": {"color": "independent", "shape": "independent"}, "legend": {"color": "independent", "shape": "independent"}},
      "hconcat": [
        {
          "width": 28, "height": 14,
          "view": {"fill": "#ffffff", "stroke": null},
          "data": {"values": [{"panel": "A)"}]},
          "mark": {"type": "text", "align": "left", "baseline": "middle", "dx": -13, "dy": -21, "fontSize": 13, "fontWeight": "bold", "color": "#111"},
          "encoding": {"text": {"field": "panel"}}
        },
        {
          "spacing": 5,
          "center": true,
          "resolve": {"scale": {"color": "independent", "shape": "independent"}, "legend": {"color": "independent", "shape": "independent"}},
          "vconcat": [
            {
              "spacing": 10,
              "resolve": {"scale": {"color": "independent", "shape": "independent"}, "legend": {"color": "independent", "shape": "independent"}},
              "hconcat": [
                {
                  "width": 160, "height": 127,
                  "title": {"text": "IL-6", "fontSize": 14, "offset": -10},
                  "data": {"name": "trend"},
                  "transform": [{"filter": "datum.gene === 'IL-6'"}],
                  "encoding": {
                    "x": {"field": "passage", "type": "ordinal", "scale": {"type": "point", "domain": ["P3", "P5", "P7", "P9", "P11", "P13", "P15"], "padding": 0.45}, "axis": {"title": null, "labelAngle": 0, "labelFontSize": 10, "labelPadding": 2}},
                    "color": {"field": "series", "type": "nominal", "scale": {"domain": ["310277 (+/+)", "172 (+/-)", "164 (-/-)"], "range": ["#63be4a", "#3866c8", "#111111"]}, "legend": {"legendX": -9, "legendY": 150.5}}
                  },
                  "layer": [
                    {"mark": {"type": "line", "strokeWidth": 1.6}, "encoding": {"y": {"field": "mean", "type": "quantitative", "title": "REU (RPLP0)", "scale": {"domain": [0, 0.15], "rangeMax": 9}, "axis": {"values": [0, 0.05, 0.1, 0.15], "format": ".2f", "labelFontSize": 9.5, "titleFontSize": 11.5}}}},
                    {"mark": {"type": "rule", "strokeWidth": 1.6}, "encoding": {"y": {"field": "lo", "type": "quantitative", "title": "REU (RPLP0)", "scale": {"domain": [0, 0.15], "rangeMax": 9}}, "y2": {"field": "hi"}}},
                    {"mark": {"type": "tick", "thickness": 1.6, "size": 7}, "encoding": {"y": {"field": "lo", "type": "quantitative", "title": "REU (RPLP0)", "scale": {"domain": [0, 0.15], "rangeMax": 9}}}},
                    {"mark": {"type": "tick", "thickness": 1.6, "size": 7}, "encoding": {"y": {"field": "hi", "type": "quantitative", "title": "REU (RPLP0)", "scale": {"domain": [0, 0.15], "rangeMax": 9}}}},
                    {"mark": {"type": "point", "filled": true, "opacity": 1, "size": 26}, "encoding": {"y": {"field": "mean", "type": "quantitative", "title": "REU (RPLP0)", "scale": {"domain": [0, 0.15], "rangeMax": 9}}, "shape": {"field": "series", "type": "nominal", "scale": {"domain": ["310277 (+/+)", "172 (+/-)", "164 (-/-)"], "range": ["circle", "triangle-up", "square"]}, "legend": {"legendX": -9, "legendY": 150.5}}}}
                  ]
                },
                {
                  "width": 170, "height": 129,
                  "title": {"text": "EZH2", "fontSize": 14, "offset": -1},
                  "data": {"name": "trend"},
                  "transform": [{"filter": "datum.gene === 'EZH2'"}],
                  "encoding": {
                    "x": {"field": "passage", "type": "ordinal", "scale": {"type": "point", "domain": ["P3", "P5", "P7", "P9", "P11", "P13", "P15"], "padding": 0.4}, "axis": {"title": null, "labelAngle": 0, "labelFontSize": 10, "labelPadding": 2}},
                    "color": {"field": "series", "type": "nominal", "scale": {"domain": ["310277 (+/+)", "172 (+/-)", "164 (-/-)"], "range": ["#63be4a", "#3866c8", "#111111"]}, "legend": {"legendX": -10, "legendY": 148.5}}
                  },
                  "layer": [
                    {"mark": {"type": "line", "strokeWidth": 1.6}, "encoding": {"y": {"field": "mean", "type": "quantitative", "title": "REU (RPLP0)", "scale": {"domain": [0, 0.02], "rangeMax": 4}, "axis": {"values": [0, 0.005, 0.01, 0.015, 0.02], "format": ".3f", "labelFontSize": 9.5, "titleFontSize": 11.5}}}},
                    {"mark": {"type": "rule", "strokeWidth": 1.6}, "encoding": {"y": {"field": "lo", "type": "quantitative", "title": "REU (RPLP0)", "scale": {"domain": [0, 0.02], "rangeMax": 4}}, "y2": {"field": "hi"}}},
                    {"mark": {"type": "tick", "thickness": 1.6, "size": 7}, "encoding": {"y": {"field": "lo", "type": "quantitative", "title": "REU (RPLP0)", "scale": {"domain": [0, 0.02], "rangeMax": 4}}}},
                    {"mark": {"type": "tick", "thickness": 1.6, "size": 7}, "encoding": {"y": {"field": "hi", "type": "quantitative", "title": "REU (RPLP0)", "scale": {"domain": [0, 0.02], "rangeMax": 4}}}},
                    {"mark": {"type": "point", "filled": true, "opacity": 1, "size": 26}, "encoding": {"y": {"field": "mean", "type": "quantitative", "title": "REU (RPLP0)", "scale": {"domain": [0, 0.02], "rangeMax": 4}}, "shape": {"field": "series", "type": "nominal", "scale": {"domain": ["310277 (+/+)", "172 (+/-)", "164 (-/-)"], "range": ["circle", "triangle-up", "square"]}, "legend": {"legendX": -10, "legendY": 148.5}}}}
                  ]
                },
                {
                  "width": 172, "height": 131,
                  "title": {"text": "ACTA2", "fontSize": 14, "offset": -13},
                  "data": {"name": "trend"},
                  "transform": [{"filter": "datum.gene === 'ACTA2'"}],
                  "encoding": {
                    "x": {"field": "passage", "type": "ordinal", "scale": {"type": "point", "domain": ["P3", "P5", "P7", "P9", "P11", "P13", "P15"], "padding": 0.44}, "axis": {"title": null, "labelAngle": 0, "labelFontSize": 10, "labelPadding": 2}},
                    "color": {"field": "series", "type": "nominal", "scale": {"domain": ["310277 (+/+)", "172 (+/-)", "164 (-/-)"], "range": ["#63be4a", "#3866c8", "#111111"]}, "legend": {"legendX": -17, "legendY": 154.5}}
                  },
                  "layer": [
                    {"mark": {"type": "line", "strokeWidth": 1.6}, "encoding": {"y": {"field": "mean", "type": "quantitative", "title": "REU (RPLP0)", "scale": {"domain": [0, 2]}, "axis": {"values": [0, 0.5, 1, 1.5, 2], "format": ".1f", "labelFontSize": 9.5, "titleFontSize": 11.5}}}},
                    {"mark": {"type": "rule", "strokeWidth": 1.6}, "encoding": {"y": {"field": "lo", "type": "quantitative", "title": "REU (RPLP0)", "scale": {"domain": [0, 2]}}, "y2": {"field": "hi"}}},
                    {"mark": {"type": "tick", "thickness": 1.6, "size": 7}, "encoding": {"y": {"field": "lo", "type": "quantitative", "title": "REU (RPLP0)", "scale": {"domain": [0, 2]}}}},
                    {"mark": {"type": "tick", "thickness": 1.6, "size": 7}, "encoding": {"y": {"field": "hi", "type": "quantitative", "title": "REU (RPLP0)", "scale": {"domain": [0, 2]}}}},
                    {"mark": {"type": "point", "filled": true, "opacity": 1, "size": 26}, "encoding": {"y": {"field": "mean", "type": "quantitative", "title": "REU (RPLP0)", "scale": {"domain": [0, 2]}}, "shape": {"field": "series", "type": "nominal", "scale": {"domain": ["310277 (+/+)", "172 (+/-)", "164 (-/-)"], "range": ["circle", "triangle-up", "square"]}, "legend": {"legendX": -17, "legendY": 154.5}}}}
                  ]
                }
              ]
            },
            {
              "spacing": 14,
              "resolve": {"scale": {"color": "independent", "shape": "independent"}, "legend": {"color": "independent", "shape": "independent"}},
              "hconcat": [
                {
                  "width": 165, "height": 131,
                  "title": {"text": "SOD1", "fontSize": 14, "offset": -6},
                  "data": {"name": "trend"},
                  "transform": [{"filter": "datum.gene === 'SOD1'"}],
                  "encoding": {
                    "x": {"field": "passage", "type": "ordinal", "scale": {"type": "point", "domain": ["P3", "P5", "P7", "P9", "P11", "P13", "P15"], "padding": 0.4}, "axis": {"title": null, "labelAngle": 0, "labelFontSize": 10, "labelPadding": 2}},
                    "color": {"field": "series", "type": "nominal", "scale": {"domain": ["310277 (+/+)", "172 (+/-)", "164 (-/-)"], "range": ["#63be4a", "#3866c8", "#111111"]}, "legend": {"legendX": -2, "legendY": 152}}
                  },
                  "layer": [
                    {"mark": {"type": "line", "strokeWidth": 1.6}, "encoding": {"y": {"field": "mean", "type": "quantitative", "title": "REU (RPLP0)", "scale": {"domain": [0, 0.25], "rangeMax": 11}, "axis": {"values": [0, 0.05, 0.1, 0.15, 0.2, 0.25], "format": ".2f", "labelFontSize": 9.5, "titleFontSize": 11.5}}}},
                    {"mark": {"type": "rule", "strokeWidth": 1.6}, "encoding": {"y": {"field": "lo", "type": "quantitative", "title": "REU (RPLP0)", "scale": {"domain": [0, 0.25], "rangeMax": 11}}, "y2": {"field": "hi"}}},
                    {"mark": {"type": "tick", "thickness": 1.6, "size": 7}, "encoding": {"y": {"field": "lo", "type": "quantitative", "title": "REU (RPLP0)", "scale": {"domain": [0, 0.25], "rangeMax": 11}}}},
                    {"mark": {"type": "tick", "thickness": 1.6, "size": 7}, "encoding": {"y": {"field": "hi", "type": "quantitative", "title": "REU (RPLP0)", "scale": {"domain": [0, 0.25], "rangeMax": 11}}}},
                    {"mark": {"type": "point", "filled": true, "opacity": 1, "size": 26}, "encoding": {"y": {"field": "mean", "type": "quantitative", "title": "REU (RPLP0)", "scale": {"domain": [0, 0.25], "rangeMax": 11}}, "shape": {"field": "series", "type": "nominal", "scale": {"domain": ["310277 (+/+)", "172 (+/-)", "164 (-/-)"], "range": ["circle", "triangle-up", "square"]}, "legend": {"legendX": -2, "legendY": 152}}}}
                  ]
                },
                {
                  "width": 170, "height": 131,
                  "title": {"text": "PDXN", "fontSize": 14, "offset": -13},
                  "data": {"name": "trend"},
                  "transform": [{"filter": "datum.gene === 'PDXN'"}],
                  "encoding": {
                    "x": {"field": "passage", "type": "ordinal", "scale": {"type": "point", "domain": ["P3", "P5", "P7", "P9", "P11", "P13", "P15"], "padding": 0.4}, "axis": {"title": null, "labelAngle": 0, "labelFontSize": 10, "labelPadding": 2}},
                    "color": {"field": "series", "type": "nominal", "scale": {"domain": ["310277 (+/+)", "172 (+/-)", "164 (-/-)"], "range": ["#63be4a", "#3866c8", "#111111"]}, "legend": {"legendX": -6, "legendY": 152.5}}
                  },
                  "layer": [
                    {"mark": {"type": "line", "strokeWidth": 1.6}, "encoding": {"y": {"field": "mean", "type": "quantitative", "title": "REU (RPLP0)", "scale": {"domain": [0, 0.6]}, "axis": {"values": [0, 0.2, 0.4, 0.6], "format": ".1f", "labelFontSize": 9.5, "titleFontSize": 11.5}}}},
                    {"mark": {"type": "rule", "strokeWidth": 1.6}, "encoding": {"y": {"field": "lo", "type": "quantitative", "title": "REU (RPLP0)", "scale": {"domain": [0, 0.6]}}, "y2": {"field": "hi"}}},
                    {"mark": {"type": "tick", "thickness": 1.6, "size": 7}, "encoding": {"y": {"field": "lo", "type": "quantitative", "title": "REU (RPLP0)", "scale": {"domain": [0, 0.6]}}}},
                    {"mark": {"type": "tick", "thickness": 1.6, "size": 7}, "encoding": {"y": {"field": "hi", "type": "quantitative", "title": "REU (RPLP0)", "scale": {"domain": [0, 0.6]}}}},
                    {"mark": {"type": "point", "filled": true, "opacity": 1, "size": 26}, "encoding": {"y": {"field": "mean", "type": "quantitative", "title": "REU (RPLP0)", "scale": {"domain": [0, 0.6]}}, "shape": {"field": "series", "type": "nominal", "scale": {"domain": ["310277 (+/+)", "172 (+/-)", "164 (-/-)"], "range": ["circle", "triangle-up", "square"]}, "legend": {"legendX": -6, "legendY": 152.5}}}}
                  ]
                }
              ]
            }
          ]
        }
      ]
    },
    {
      "spacing": 50,
      "resolve": {"scale": {"color": "independent", "shape": "independent", "fill": "independent"}, "legend": {"color": "independent", "shape": "independent", "fill": "independent"}},
      "hconcat": [
        {
          "width": 28, "height": 14,
          "view": {"fill": "#ffffff", "stroke": null},
          "data": {"values": [{"panel": "B)"}]},
          "mark": {"type": "text", "align": "left", "baseline": "middle", "dx": -13, "dy": -27, "fontSize": 13, "fontWeight": "bold", "color": "#111"},
          "encoding": {"text": {"field": "panel"}}
        },
        {
          "spacing": 12,
          "center": true,
          "resolve": {"scale": {"color": "independent", "shape": "independent", "fill": "independent"}, "legend": {"color": "independent", "shape": "independent", "fill": "independent"}},
          "vconcat": [
            {
              "width": 380, "height": 12,
              "view": {"fill": "#ffffff", "stroke": null},
              "data": {"values": [{"passage": "Low passage (P3-P5)"}, {"passage": "High passage (P13-P15)"}]},
              "encoding": {"x": {"field": "passage", "type": "nominal", "scale": {"type": "point", "domain": ["Low passage (P3-P5)", "High passage (P13-P15)"], "padding": 0.511, "align": 0.088}, "axis": null}},
              "layer": [
                {"mark": {"type": "point", "filled": true, "size": 85, "stroke": "#111", "strokeWidth": 1.5, "opacity": 1}, "encoding": {"color": {"field": "passage", "type": "nominal", "scale": {"domain": ["Low passage (P3-P5)", "High passage (P13-P15)"], "range": ["#ffffff", "#111111"]}, "legend": null}}},
                {"mark": {"type": "text", "align": "left", "dx": 10, "fontSize": 11.5, "color": "#111"}, "encoding": {"text": {"field": "passage"}}}
              ]
            },
            {
              "spacing": 20,
              "resolve": {"scale": {"color": "independent", "shape": "independent", "fill": "independent"}, "legend": {"color": "independent", "shape": "independent", "fill": "independent"}},
              "hconcat": [
                {
                  "width": 144, "height": 146,
                  "title": {"text": "IL6", "fontSize": 13, "offset": 12},
                  "encoding": {
                    "x": {"field": "genotype", "type": "nominal", "scale": {"domain": ["GSTT1 +/+", "GSTT1 +/-", "GSTT1 -/-"], "paddingInner": 0.42, "paddingOuter": 0.21}, "axis": {"title": null, "labelAngle": 0, "labelFontSize": 8, "labelFontWeight": "normal", "labelPadding": 3}},
                    "xOffset": {"field": "passage", "type": "nominal", "scale": {"domain": ["Low", "Mid", "High"], "paddingInner": 0, "paddingOuter": 0}}
                  },
                  "layer": [
                    {"data": {"name": "bars"}, "transform": [{"filter": "datum.gene === 'IL6'"}], "mark": {"type": "bar", "width": 12, "stroke": "#111", "strokeWidth": 1.5}, "encoding": {"y": {"field": "mean", "type": "quantitative", "title": "REU (RPLP0)", "scale": {"domain": [0, 0.15]}, "axis": {"values": [0, 0.05, 0.1, 0.15], "format": ".2f", "labelFontSize": 12, "titleFontSize": 13}}, "fill": {"field": "passage", "type": "nominal", "scale": {"domain": ["Low", "High"], "range": ["#ffffff", "#8a8a8a"]}, "legend": null}}},
                    {"data": {"name": "bars"}, "transform": [{"filter": "datum.gene === 'IL6'"}], "mark": {"type": "rule", "color": "#333", "strokeWidth": 1.2}, "encoding": {"y": {"field": "lo", "type": "quantitative", "title": "REU (RPLP0)", "scale": {"domain": [0, 0.15]}}, "y2": {"field": "hi"}}},
                    {"data": {"name": "bars"}, "transform": [{"filter": "datum.gene === 'IL6'"}], "mark": {"type": "tick", "color": "#333", "thickness": 1.2, "size": 6}, "encoding": {"y": {"field": "hi", "type": "quantitative", "title": "REU (RPLP0)", "scale": {"domain": [0, 0.15]}}}},
                    {"data": {"name": "dots"}, "transform": [{"filter": "datum.gene === 'IL6'"}], "mark": {"type": "point", "filled": true, "size": 36, "stroke": "#111", "strokeWidth": 1.3, "opacity": 1}, "encoding": {"y": {"field": "value", "type": "quantitative", "title": "REU (RPLP0)", "scale": {"domain": [0, 0.15]}}, "color": {"field": "passage", "type": "nominal", "scale": {"domain": ["Low", "High"], "range": ["#ffffff", "#111111"]}, "legend": null}, "shape": {"field": "rep", "type": "nominal", "scale": {"domain": ["a", "b", "c"], "range": ["M-0.2,0A1,1,0,1,1,-2.2,0A1,1,0,1,1,-0.2,0Z", "M2.2,0A1,1,0,1,1,0.2,0A1,1,0,1,1,2.2,0Z", "circle"]}, "legend": null}}},
                    {"data": {"name": "brackets"}, "transform": [{"filter": "datum.gene === 'IL6'"}], "mark": {"type": "line", "color": "#111", "strokeWidth": 1.4}, "encoding": {"y": {"field": "y", "type": "quantitative", "title": "REU (RPLP0)", "scale": {"domain": [0, 0.15]}}, "detail": {"field": "b"}, "order": {"field": "v"}}},
                    {"data": {"name": "stars"}, "transform": [{"filter": "datum.gene === 'IL6' && !datum.adj"}], "mark": {"type": "text", "font": "DejaVu Sans", "fontSize": 15, "dy": -1, "baseline": "alphabetic", "color": "#222"}, "encoding": {"y": {"field": "y", "type": "quantitative", "title": "REU (RPLP0)", "scale": {"domain": [0, 0.15]}}, "text": {"field": "label"}}},
                    {"data": {"name": "stars"}, "transform": [{"filter": "datum.gene === 'IL6' && datum.adj"}], "mark": {"type": "text", "font": "DejaVu Sans", "fontSize": 15, "dy": -1, "dx": 24, "baseline": "alphabetic", "color": "#222"}, "encoding": {"y": {"field": "y", "type": "quantitative", "title": "REU (RPLP0)", "scale": {"domain": [0, 0.15]}}, "text": {"field": "label"}}}
                  ]
                },
                {
                  "width": 142, "height": 145,
                  "title": {"text": "EZH2", "fontSize": 13, "offset": 7},
                  "encoding": {
                    "x": {"field": "genotype", "type": "nominal", "scale": {"domain": ["GSTT1 +/+", "GSTT1 +/-", "GSTT1 -/-"], "paddingInner": 0.48, "paddingOuter": 0.24}, "axis": {"title": null, "labelAngle": 0, "labelFontSize": 8, "labelFontWeight": "normal", "labelPadding": 3}},
                    "xOffset": {"field": "passage", "type": "nominal", "scale": {"domain": ["Low", "Mid", "High"], "paddingInner": 0, "paddingOuter": 0}}
                  },
                  "layer": [
                    {"data": {"name": "bars"}, "transform": [{"filter": "datum.gene === 'EZH2'"}], "mark": {"type": "bar", "width": 12, "stroke": "#111", "strokeWidth": 1.5}, "encoding": {"y": {"field": "mean", "type": "quantitative", "title": "REU (RPLP0)", "scale": {"domain": [0, 0.015], "rangeMax": 25}, "axis": {"values": [0, 0.005, 0.01, 0.015], "format": ".3f", "labelFontSize": 9.5, "titleFontSize": 11}}, "fill": {"field": "passage", "type": "nominal", "scale": {"domain": ["Low", "High"], "range": ["#ffffff", "#8a8a8a"]}, "legend": null}}},
                    {"data": {"name": "bars"}, "transform": [{"filter": "datum.gene === 'EZH2'"}], "mark": {"type": "rule", "color": "#333", "strokeWidth": 1.2}, "encoding": {"y": {"field": "lo", "type": "quantitative", "title": "REU (RPLP0)", "scale": {"domain": [0, 0.015], "rangeMax": 25}}, "y2": {"field": "hi"}}},
                    {"data": {"name": "bars"}, "transform": [{"filter": "datum.gene === 'EZH2'"}], "mark": {"type": "tick", "color": "#333", "thickness": 1.2, "size": 6}, "encoding": {"y": {"field": "hi", "type": "quantitative", "title": "REU (RPLP0)", "scale": {"domain": [0, 0.015], "rangeMax": 25}}}},
                    {"data": {"name": "dots"}, "transform": [{"filter": "datum.gene === 'EZH2'"}], "mark": {"type": "point", "filled": true, "size": 36, "stroke": "#111", "strokeWidth": 1.3, "opacity": 1}, "encoding": {"y": {"field": "value", "type": "quantitative", "title": "REU (RPLP0)", "scale": {"domain": [0, 0.015], "rangeMax": 25}}, "color": {"field": "passage", "type": "nominal", "scale": {"domain": ["Low", "High"], "range": ["#ffffff", "#111111"]}, "legend": null}, "shape": {"field": "rep", "type": "nominal", "scale": {"domain": ["a", "b", "c"], "range": ["M-0.2,0A1,1,0,1,1,-2.2,0A1,1,0,1,1,-0.2,0Z", "M2.2,0A1,1,0,1,1,0.2,0A1,1,0,1,1,2.2,0Z", "circle"]}, "legend": null}}},
                    {"data": {"name": "brackets"}, "transform": [{"filter": "datum.gene === 'EZH2'"}], "mark": {"type": "line", "color": "#111", "strokeWidth": 1.4}, "encoding": {"y": {"field": "y", "type": "quantitative", "title": "REU (RPLP0)", "scale": {"domain": [0, 0.015], "rangeMax": 25}}, "detail": {"field": "b"}, "order": {"field": "v"}}},
                    {"data": {"name": "stars"}, "transform": [{"filter": "datum.gene === 'EZH2' && !datum.adj"}], "mark": {"type": "text", "font": "DejaVu Sans", "fontSize": 15, "dy": -1, "baseline": "alphabetic", "color": "#222"}, "encoding": {"y": {"field": "y", "type": "quantitative", "title": "REU (RPLP0)", "scale": {"domain": [0, 0.015], "rangeMax": 25}}, "text": {"field": "label"}}},
                    {"data": {"name": "stars"}, "transform": [{"filter": "datum.gene === 'EZH2' && datum.adj"}], "mark": {"type": "text", "font": "DejaVu Sans", "fontSize": 15, "dy": -1, "dx": 23.7, "baseline": "alphabetic", "color": "#222"}, "encoding": {"y": {"field": "y", "type": "quantitative", "title": "REU (RPLP0)", "scale": {"domain": [0, 0.015], "rangeMax": 25}}, "text": {"field": "label"}}}
                  ]
                },
                {
                  "width": 138, "height": 140,
                  "title": {"text": "ACTA2", "fontSize": 13, "offset": 15},
                  "encoding": {
                    "x": {"field": "genotype", "type": "nominal", "scale": {"domain": ["GSTT1 +/+", "GSTT1 +/-", "GSTT1 -/-"], "paddingInner": 0.45, "paddingOuter": 0.165}, "axis": {"title": null, "labelAngle": 0, "labelFontSize": 8, "labelFontWeight": "normal", "labelPadding": 3}},
                    "xOffset": {"field": "passage", "type": "nominal", "scale": {"domain": ["Low", "Mid", "High"], "paddingInner": 0, "paddingOuter": 0}}
                  },
                  "layer": [
                    {"data": {"name": "bars"}, "transform": [{"filter": "datum.gene === 'ACTA2'"}], "mark": {"type": "bar", "width": 12, "stroke": "#111", "strokeWidth": 1.5}, "encoding": {"y": {"field": "mean", "type": "quantitative", "title": "REU (RPLP0)", "scale": {"domain": [0, 1.5], "rangeMax": 1}, "axis": {"values": [0, 0.5, 1, 1.5], "format": ".1f", "labelFontSize": 12, "titleFontSize": 12}}, "fill": {"field": "passage", "type": "nominal", "scale": {"domain": ["Low", "High"], "range": ["#ffffff", "#8a8a8a"]}, "legend": null}}},
                    {"data": {"name": "bars"}, "transform": [{"filter": "datum.gene === 'ACTA2'"}], "mark": {"type": "rule", "color": "#333", "strokeWidth": 1.2}, "encoding": {"y": {"field": "lo", "type": "quantitative", "title": "REU (RPLP0)", "scale": {"domain": [0, 1.5], "rangeMax": 1}}, "y2": {"field": "hi"}}},
                    {"data": {"name": "bars"}, "transform": [{"filter": "datum.gene === 'ACTA2'"}], "mark": {"type": "tick", "color": "#333", "thickness": 1.2, "size": 6}, "encoding": {"y": {"field": "hi", "type": "quantitative", "title": "REU (RPLP0)", "scale": {"domain": [0, 1.5], "rangeMax": 1}}}},
                    {"data": {"name": "dots"}, "transform": [{"filter": "datum.gene === 'ACTA2'"}], "mark": {"type": "point", "filled": true, "size": 36, "stroke": "#111", "strokeWidth": 1.3, "opacity": 1}, "encoding": {"y": {"field": "value", "type": "quantitative", "title": "REU (RPLP0)", "scale": {"domain": [0, 1.5], "rangeMax": 1}}, "color": {"field": "passage", "type": "nominal", "scale": {"domain": ["Low", "High"], "range": ["#ffffff", "#111111"]}, "legend": null}, "shape": {"field": "rep", "type": "nominal", "scale": {"domain": ["a", "b", "c"], "range": ["M-0.2,0A1,1,0,1,1,-2.2,0A1,1,0,1,1,-0.2,0Z", "M2.2,0A1,1,0,1,1,0.2,0A1,1,0,1,1,2.2,0Z", "circle"]}, "legend": null}}},
                    {"data": {"name": "brackets"}, "transform": [{"filter": "datum.gene === 'ACTA2'"}], "mark": {"type": "line", "color": "#111", "strokeWidth": 1.4}, "encoding": {"y": {"field": "y", "type": "quantitative", "title": "REU (RPLP0)", "scale": {"domain": [0, 1.5], "rangeMax": 1}}, "detail": {"field": "b"}, "order": {"field": "v"}}},
                    {"data": {"name": "stars"}, "transform": [{"filter": "datum.gene === 'ACTA2' && !datum.adj"}], "mark": {"type": "text", "font": "DejaVu Sans", "fontSize": 15, "dy": -1, "baseline": "alphabetic", "color": "#222"}, "encoding": {"y": {"field": "y", "type": "quantitative", "title": "REU (RPLP0)", "scale": {"domain": [0, 1.5], "rangeMax": 1}}, "text": {"field": "label"}}},
                    {"data": {"name": "stars"}, "transform": [{"filter": "datum.gene === 'ACTA2' && datum.adj"}], "mark": {"type": "text", "font": "DejaVu Sans", "fontSize": 15, "dy": -1, "dx": 24, "baseline": "alphabetic", "color": "#222"}, "encoding": {"y": {"field": "y", "type": "quantitative", "title": "REU (RPLP0)", "scale": {"domain": [0, 1.5], "rangeMax": 1}}, "text": {"field": "label"}}}
                  ]
                }
              ]
            },
            {
              "spacing": 45,
              "resolve": {"scale": {"color": "independent", "shape": "independent", "fill": "independent"}, "legend": {"color": "independent", "shape": "independent", "fill": "independent"}},
              "hconcat": [
                {
                  "width": 146, "height": 129,
                  "title": {"text": "SOD1", "fontSize": 13, "offset": 15},
                  "encoding": {
                    "x": {"field": "genotype", "type": "nominal", "scale": {"domain": ["GSTT1 +/+", "GSTT1 +/-", "GSTT1 -/-"], "paddingInner": 0.47, "paddingOuter": 0.28}, "axis": {"title": null, "labelAngle": 0, "labelFontSize": 8, "labelFontWeight": "normal", "labelPadding": 3}},
                    "xOffset": {"field": "passage", "type": "nominal", "scale": {"domain": ["Low", "Mid", "High"], "paddingInner": 0, "paddingOuter": 0}}
                  },
                  "layer": [
                    {"data": {"name": "bars"}, "transform": [{"filter": "datum.gene === 'SOD1'"}], "mark": {"type": "bar", "width": 12, "stroke": "#111", "strokeWidth": 1.5}, "encoding": {"y": {"field": "mean", "type": "quantitative", "title": "REU (RPLP0)", "scale": {"domain": [0, 0.3]}, "axis": {"values": [0, 0.1, 0.2, 0.3], "format": ".1f", "labelFontSize": 9.5, "titleFontSize": 10.5}}, "fill": {"field": "passage", "type": "nominal", "scale": {"domain": ["Low", "High"], "range": ["#ffffff", "#8a8a8a"]}, "legend": null}}},
                    {"data": {"name": "bars"}, "transform": [{"filter": "datum.gene === 'SOD1'"}], "mark": {"type": "rule", "color": "#333", "strokeWidth": 1.2}, "encoding": {"y": {"field": "lo", "type": "quantitative", "title": "REU (RPLP0)", "scale": {"domain": [0, 0.3]}}, "y2": {"field": "hi"}}},
                    {"data": {"name": "bars"}, "transform": [{"filter": "datum.gene === 'SOD1'"}], "mark": {"type": "tick", "color": "#333", "thickness": 1.2, "size": 6}, "encoding": {"y": {"field": "hi", "type": "quantitative", "title": "REU (RPLP0)", "scale": {"domain": [0, 0.3]}}}},
                    {"data": {"name": "dots"}, "transform": [{"filter": "datum.gene === 'SOD1'"}], "mark": {"type": "point", "filled": true, "size": 36, "stroke": "#111", "strokeWidth": 1.3, "opacity": 1}, "encoding": {"y": {"field": "value", "type": "quantitative", "title": "REU (RPLP0)", "scale": {"domain": [0, 0.3]}}, "color": {"field": "passage", "type": "nominal", "scale": {"domain": ["Low", "High"], "range": ["#ffffff", "#111111"]}, "legend": null}, "shape": {"field": "rep", "type": "nominal", "scale": {"domain": ["a", "b", "c"], "range": ["M-0.2,0A1,1,0,1,1,-2.2,0A1,1,0,1,1,-0.2,0Z", "M2.2,0A1,1,0,1,1,0.2,0A1,1,0,1,1,2.2,0Z", "circle"]}, "legend": null}}},
                    {"data": {"name": "brackets"}, "transform": [{"filter": "datum.gene === 'SOD1'"}], "mark": {"type": "line", "color": "#111", "strokeWidth": 1.4}, "encoding": {"y": {"field": "y", "type": "quantitative", "title": "REU (RPLP0)", "scale": {"domain": [0, 0.3]}}, "detail": {"field": "b"}, "order": {"field": "v"}}},
                    {"data": {"name": "stars"}, "transform": [{"filter": "datum.gene === 'SOD1' && !datum.adj"}], "mark": {"type": "text", "font": "DejaVu Sans", "fontSize": 15, "dy": -1, "baseline": "alphabetic", "color": "#222"}, "encoding": {"y": {"field": "y", "type": "quantitative", "title": "REU (RPLP0)", "scale": {"domain": [0, 0.3]}}, "text": {"field": "label"}}},
                    {"data": {"name": "stars"}, "transform": [{"filter": "datum.gene === 'SOD1' && datum.adj"}], "mark": {"type": "text", "font": "DejaVu Sans", "fontSize": 15, "dy": -1, "dx": 23.6, "baseline": "alphabetic", "color": "#222"}, "encoding": {"y": {"field": "y", "type": "quantitative", "title": "REU (RPLP0)", "scale": {"domain": [0, 0.3]}}, "text": {"field": "label"}}}
                  ]
                },
                {
                  "width": 134, "height": 131,
                  "title": {"text": "PDXN", "fontSize": 13, "offset": 6},
                  "encoding": {
                    "x": {"field": "genotype", "type": "nominal", "scale": {"domain": ["GSTT1 +/+", "GSTT1 +/-", "GSTT1 -/-"], "paddingInner": 0.48, "paddingOuter": 0.2}, "axis": {"title": null, "labelAngle": 0, "labelFontSize": 8, "labelFontWeight": "normal", "labelPadding": 3}},
                    "xOffset": {"field": "passage", "type": "nominal", "scale": {"domain": ["Low", "Mid", "High"], "paddingInner": 0, "paddingOuter": 0}}
                  },
                  "layer": [
                    {"data": {"name": "bars"}, "transform": [{"filter": "datum.gene === 'PDXN'"}], "mark": {"type": "bar", "width": 12, "stroke": "#111", "strokeWidth": 1.5}, "encoding": {"y": {"field": "mean", "type": "quantitative", "title": "REU (RPLP0)", "scale": {"domain": [0, 0.6], "rangeMax": 22}, "axis": {"values": [0, 0.2, 0.4, 0.6], "format": ".1f", "labelFontSize": 9.5, "titleFontSize": 10.5}}, "fill": {"field": "passage", "type": "nominal", "scale": {"domain": ["Low", "High"], "range": ["#ffffff", "#8a8a8a"]}, "legend": null}}},
                    {"data": {"name": "bars"}, "transform": [{"filter": "datum.gene === 'PDXN'"}], "mark": {"type": "rule", "color": "#333", "strokeWidth": 1.2}, "encoding": {"y": {"field": "lo", "type": "quantitative", "title": "REU (RPLP0)", "scale": {"domain": [0, 0.6], "rangeMax": 22}}, "y2": {"field": "hi"}}},
                    {"data": {"name": "bars"}, "transform": [{"filter": "datum.gene === 'PDXN'"}], "mark": {"type": "tick", "color": "#333", "thickness": 1.2, "size": 6}, "encoding": {"y": {"field": "hi", "type": "quantitative", "title": "REU (RPLP0)", "scale": {"domain": [0, 0.6], "rangeMax": 22}}}},
                    {"data": {"name": "dots"}, "transform": [{"filter": "datum.gene === 'PDXN'"}], "mark": {"type": "point", "filled": true, "size": 36, "stroke": "#111", "strokeWidth": 1.3, "opacity": 1}, "encoding": {"y": {"field": "value", "type": "quantitative", "title": "REU (RPLP0)", "scale": {"domain": [0, 0.6], "rangeMax": 22}}, "color": {"field": "passage", "type": "nominal", "scale": {"domain": ["Low", "High"], "range": ["#ffffff", "#111111"]}, "legend": null}, "shape": {"field": "rep", "type": "nominal", "scale": {"domain": ["a", "b", "c"], "range": ["M-0.2,0A1,1,0,1,1,-2.2,0A1,1,0,1,1,-0.2,0Z", "M2.2,0A1,1,0,1,1,0.2,0A1,1,0,1,1,2.2,0Z", "circle"]}, "legend": null}}},
                    {"data": {"name": "brackets"}, "transform": [{"filter": "datum.gene === 'PDXN'"}], "mark": {"type": "line", "color": "#111", "strokeWidth": 1.4}, "encoding": {"y": {"field": "y", "type": "quantitative", "title": "REU (RPLP0)", "scale": {"domain": [0, 0.6], "rangeMax": 22}}, "detail": {"field": "b"}, "order": {"field": "v"}}},
                    {"data": {"name": "stars"}, "transform": [{"filter": "datum.gene === 'PDXN' && !datum.adj"}], "mark": {"type": "text", "font": "DejaVu Sans", "fontSize": 15, "dy": -1, "baseline": "alphabetic", "color": "#222"}, "encoding": {"y": {"field": "y", "type": "quantitative", "title": "REU (RPLP0)", "scale": {"domain": [0, 0.6], "rangeMax": 22}}, "text": {"field": "label"}}},
                    {"data": {"name": "stars"}, "transform": [{"filter": "datum.gene === 'PDXN' && datum.adj"}], "mark": {"type": "text", "font": "DejaVu Sans", "fontSize": 15, "dy": -1, "dx": 23, "baseline": "alphabetic", "color": "#222"}, "encoding": {"y": {"field": "y", "type": "quantitative", "title": "REU (RPLP0)", "scale": {"domain": [0, 0.6], "rangeMax": 22}}, "text": {"field": "label"}}}
                  ]
                }
              ]
            }
          ]
        }
      ]
    }
  ]
}
